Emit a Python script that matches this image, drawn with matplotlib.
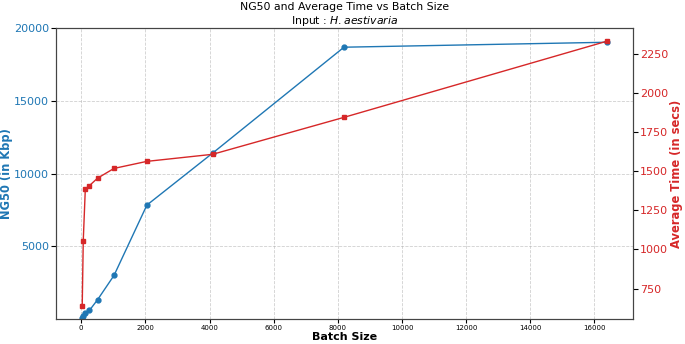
import matplotlib
matplotlib.use("Agg")
import matplotlib.pyplot as plt

batch_sizes = [32, 64, 128, 256, 512, 1024, 2048, 4096, 8192, 16384]
ng50_kbp = [90, 180, 400, 590, 1330, 3000, 7830, 11400, 18680, 19020]
avg_time = [640, 1055, 1385, 1407, 1455, 1517, 1562, 1607, 1843, 2329]

blue = "#1f77b4"
red = "#d62728"

fig = plt.figure(figsize=(6.85, 3.44), dpi=100)
ax1 = fig.add_axes([56/685, 1-319/344, (633-56)/685, (319-28)/344])
ax1.plot(batch_sizes, ng50_kbp, color=blue, marker='o', markersize=3.5, linewidth=1)
ax1.set_ylim(0, 20000)
ax1.set_yticks([5000, 10000, 15000, 20000])
ax1.tick_params(axis='y', labelcolor=blue, labelsize=8, length=3.5, pad=1.5)
ax1.tick_params(axis='x', labelsize=5, length=3, pad=1.5)
ax1.set_xlabel("Batch Size", fontsize=8, fontweight='bold', labelpad=0.5)
ax1.set_ylabel("NG50 (in Kbp)", fontsize=8.3, fontweight='bold', color=blue, labelpad=1)
ax1.grid(True, linestyle='--', linewidth=0.6, alpha=0.6)

ax2 = ax1.twinx()
ax2.plot(batch_sizes, avg_time, color=red, marker='s', markersize=3.5, linewidth=1)
ax2.tick_params(axis='y', labelcolor=red, labelsize=8, length=3.5, pad=1.5)
ax2.set_ylabel("Average Time (in secs)", fontsize=8.3, fontweight='bold', color=red, labelpad=1)

for ax in (ax1, ax2):
    for s in ax.spines.values():
        s.set_color('#444444')

ax1.set_title("NG50 and Average Time vs Batch Size\nInput : $\\it{H. aestivaria}$", fontsize=7.8, pad=3)

fig.savefig("out.png", dpi=100)
